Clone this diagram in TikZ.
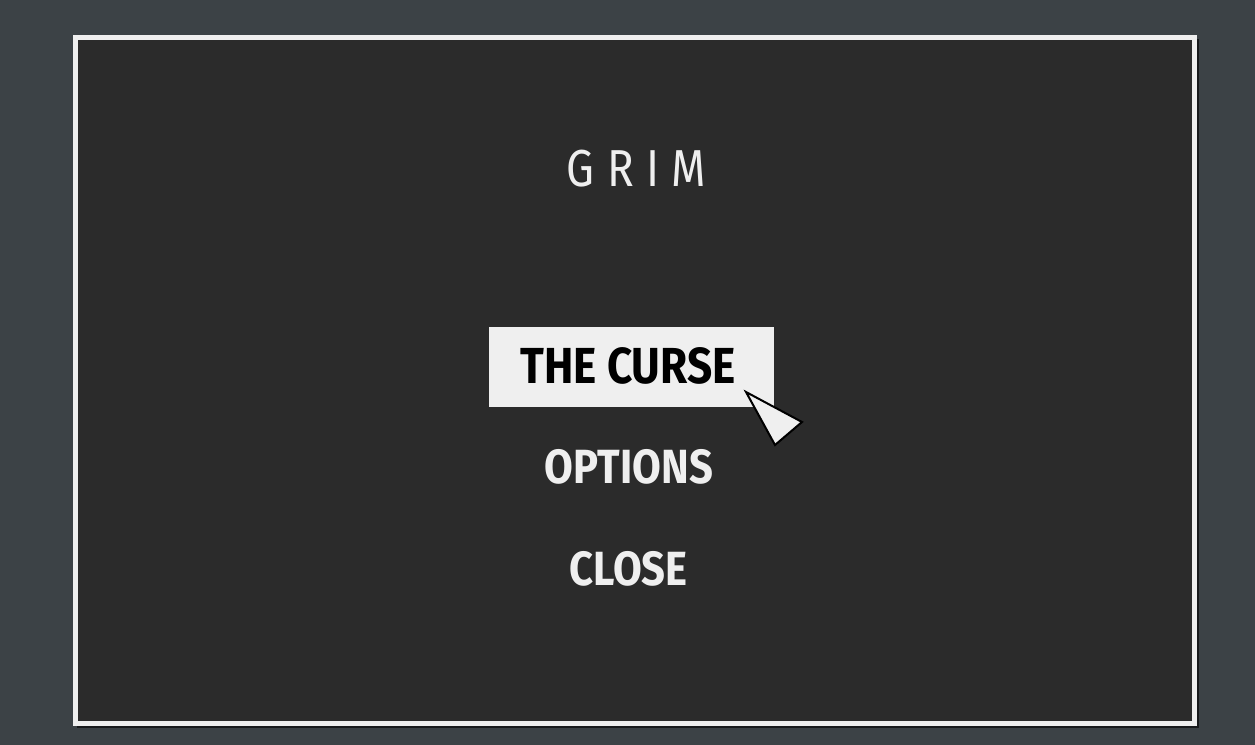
\documentclass[tikz,border=0pt]{standalone}
\usepackage{fontspec}
\setmainfont{Fira Sans}
\newfontfamily\menufont[FakeStretch=0.87]{Fira Sans}
\newfontfamily\titlefont[FakeStretch=0.85,LetterSpace=24]{Fira Sans}
\usepackage{xcolor}
\definecolor{rockgray}{HTML}{3C4246}
\definecolor{panelgray}{HTML}{2B2B2B}
\definecolor{paper}{HTML}{EFEFEF}

\begin{document}
\begin{tikzpicture}[x=0.75pt,y=0.75pt,yscale=-1,xscale=1]
\useasboundingbox (0,0) rectangle (1255,745);

%Shape: Background
\fill [rockgray] (0,0) rectangle (1255,745);
%Shape: Frame shadow
\fill [black, opacity=0.6] (77,39) rectangle (1199,728);
%Shape: Frame
\draw [draw=paper, line width=3.75pt, fill=panelgray] (75.5,37.5) rectangle (1194.5,723.5);

% Text Node
\draw (636.5,169) node (title) [text=paper]  {\fontsize{39}{39}\selectfont\titlefont GRIM};

%Shape: Button
\draw (631.5,366.5) node (curse) [fill=paper, minimum width=213.75pt, minimum height=60pt, inner sep=0pt] {};
% Text Node
\draw (628,365.5) node (cursetext) [text=black]  {\fontsize{38}{38}\selectfont\menufont\bfseries THE CURSE};

%Shape: Cursor
\draw [fill=paper, line width=1.5pt, line join=miter] (746,392) -- (802,422) -- (775,445) -- cycle ;

% Text Node
\draw (629,466.5) node (options) [text=paper]  {\fontsize{36}{36}\selectfont\menufont\bfseries OPTIONS};
% Text Node
\draw (628.5,568.5) node (close) [text=paper]  {\fontsize{36}{36}\selectfont\menufont\bfseries CLOSE};

\end{tikzpicture}
\end{document}
